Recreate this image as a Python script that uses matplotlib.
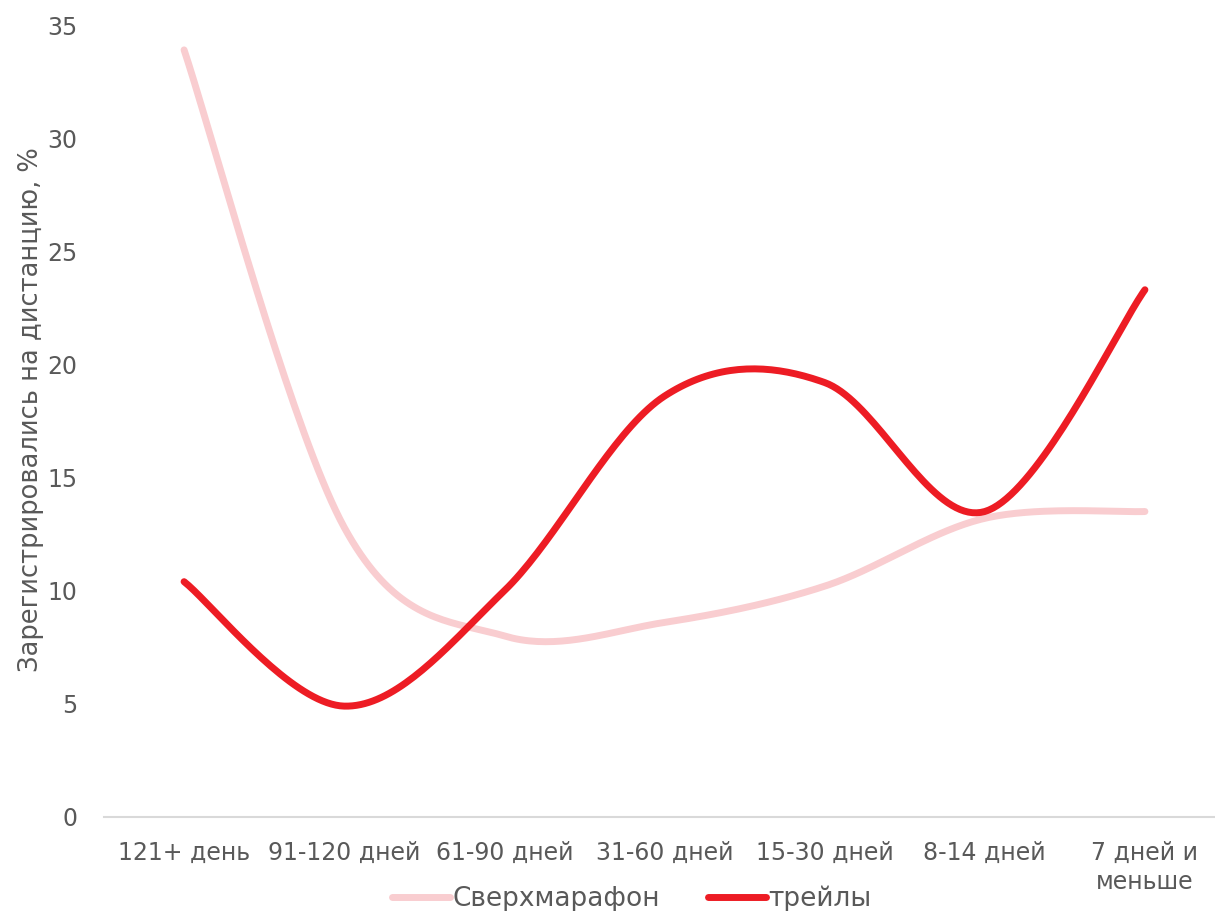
import numpy as np
import matplotlib.pyplot as plt

plt.rcParams['font.family'] = ['DejaVu Sans']

categories = ['121+ день', '91-120 дней', '61-90 дней', '31-60 дней',
              '15-30 дней', '8-14 дней', '7 дней и\nменьше']
ultra = [33.9, 12.8, 8.0, 8.6, 10.2, 13.2, 13.5]
trail = [10.4, 4.9, 10.0, 18.6, 19.2, 13.5, 23.3]
yticks = [0, 5, 10, 15, 20, 25, 30, 35]

gray = '#595959'


def smooth(y, n=40):
    # bezier smoothing like excel, tangents (P[i+1]-P[i-1])/6
    y = np.asarray(y, float)
    x = np.arange(len(y), dtype=float)
    xs, ys = [], []
    for i in range(len(y) - 1):
        y0 = y[i - 1] if i > 0 else y[i]
        y3 = y[i + 2] if i + 2 < len(y) else y[i + 1]
        x0 = x[i - 1] if i > 0 else x[i]
        x3 = x[i + 2] if i + 2 < len(y) else x[i + 1]
        c1x = x[i] + (x[i + 1] - x0) / 6
        c1y = y[i] + (y[i + 1] - y0) / 6
        c2x = x[i + 1] - (x3 - x[i]) / 6
        c2y = y[i + 1] - (y3 - y[i]) / 6
        t = np.linspace(0, 1, n)
        bx = (1-t)**3*x[i] + 3*(1-t)**2*t*c1x + 3*(1-t)*t**2*c2x + t**3*x[i+1]
        by = (1-t)**3*y[i] + 3*(1-t)**2*t*c1y + 3*(1-t)*t**2*c2y + t**3*y[i+1]
        xs.extend(bx)
        ys.extend(by)
    return xs, ys


fig = plt.figure(figsize=(12.15, 9.11), dpi=100)
ax = fig.add_axes([104 / 1215, 1 - 817 / 911, 1121 / 1215, 792 / 911])

sx, sy = smooth(ultra)
ax.plot(sx, sy, color='#F9CDD0', lw=5, solid_capstyle='round', label='Сверхмарафон')
tx, ty = smooth(trail)
ax.plot(tx, ty, color='#ED1C24', lw=5, solid_capstyle='round', label='трейлы')

ax.set_xlim(-0.5, 6.5)
ax.set_ylim(0, 35)
ax.set_yticks(yticks)
ax.set_xticks(range(len(categories)))
ax.set_xticklabels(categories, va='top', ha='center', linespacing=1.3)
ax.tick_params(axis='both', length=0, labelsize=17, labelcolor=gray)
ax.tick_params(axis='x', pad=17)
ax.tick_params(axis='y', pad=19)

for s in ['top', 'right', 'left']:
    ax.spines[s].set_visible(False)
ax.spines['bottom'].set_color('#D9D9D9')
ax.spines['bottom'].set_linewidth(1.5)

ax.set_ylabel('Зарегистрировались на дистанцию, %', fontsize=18.5, color=gray)
ax.yaxis.set_label_coords((44 - 104) / 1121, (817 - 410) / 792)

fig.legend(loc='center', bbox_to_anchor=(0.52, 1 - 899 / 911), ncol=2, frameon=False,
           fontsize=19, labelcolor=gray, handlelength=2.2, handletextpad=0.1,
           columnspacing=1.8)

fig.savefig('out.png')
